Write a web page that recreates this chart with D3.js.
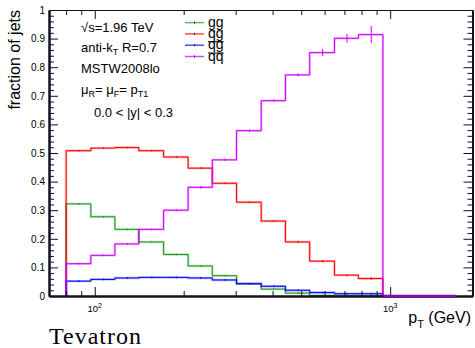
<!DOCTYPE html>
<html>
<head>
<meta charset="utf-8">
<script src="https://cdn.jsdelivr.net/npm/d3@7"></script>
<style>
  body { margin: 0; background: #fff; }
  svg { display: block; }
  text { fill: #000; }
</style>
</head>
<body>
<svg id="chart" width="475" height="348" font-family="Liberation Sans, Arial, Helvetica, sans-serif"></svg>
<script>
// Jet pT bin edges (GeV), log-spaced
const binEdges = [80, 97, 117, 141, 171, 207, 250, 302, 366, 442, 534, 648, 781, 945, 1143, 1382, 1671];

// Fraction of jets per subprocess channel in each pT bin
const fracGG    = [0.322, 0.277, 0.233, 0.189, 0.145, 0.105, 0.071, 0.043, 0.024, 0.010, 0.002, 0.001, 0.001, 0, 0, 0];
const fracQG    = [0.508, 0.517, 0.519, 0.508, 0.486, 0.447, 0.394, 0.328, 0.262, 0.189, 0.122, 0.073, 0.061, 0, 0, 0];
const fracQGbar = [0.052, 0.058, 0.063, 0.065, 0.065, 0.063, 0.056, 0.043, 0.034, 0.020, 0.012, 0.008, 0.008, 0, 0, 0];
const fracQQbar = [0.113, 0.142, 0.182, 0.233, 0.300, 0.380, 0.476, 0.578, 0.683, 0.773, 0.851, 0.901, 0.914, 0, 0, 0];

// Statistical uncertainties
const errGG    = [0.003, 0.003, 0.003, 0.003, 0.003, 0.003, 0.003, 0.003, 0.003, 0.003, 0.002, 0.002, 0.002, 0, 0, 0];
const errQG    = [0.003, 0.003, 0.003, 0.003, 0.003, 0.003, 0.003, 0.003, 0.003, 0.004, 0.004, 0.004, 0.005, 0, 0, 0];
const errQGbar = [0.003, 0.003, 0.003, 0.003, 0.003, 0.003, 0.003, 0.003, 0.003, 0.003, 0.003, 0.003, 0.003, 0, 0, 0];
const errQQbar = [0.003, 0.003, 0.003, 0.003, 0.003, 0.004, 0.004, 0.004, 0.004, 0.005, 0.012, 0.016, 0.030, 0, 0, 0];

const legendLabels = ["gg", "qg", "qg", "qq"];
const legendBar    = [false, false, true, true];
const seriesColors = ["#1e9a1e", "#ff0000", "#0000ff", "#cc00ff"];

const yMajorTicks = [0, 0.1, 0.2, 0.3, 0.4, 0.5, 0.6, 0.7, 0.8, 0.9, 1];
const xMajorTicks = [100, 1000];
const xMajorLabels = [["10", "2"], ["10", "3"]];
const xMinorTicks = [80, 90, 200, 300, 400, 500, 600, 700, 800, 900];

const series = [
  { vals: fracGG,    errs: errGG },
  { vals: fracQG,    errs: errQG },
  { vals: fracQGbar, errs: errQGbar },
  { vals: fracQQbar, errs: errQQbar }
];

const svg = d3.select("#chart");
const L = 49, R = 472.5, T = 10, B = 296;

const x = d3.scaleLog().domain([70, 1900]).range([L, R]);
const y = d3.scaleLinear().domain([0, 1]).range([B, T]);

const yMinor = d3.range(0, 1.0001, 0.02).filter(v => Math.abs(Math.round(v * 10) - v * 10) > 1e-6);

// ---- axes ----
function styleAxis(g, w) {
  g.select(".domain").attr("stroke", "#111122").attr("stroke-width", w);
  g.selectAll(".tick line").attr("stroke", "#111").attr("stroke-width", 1);
}

svg.append("g").attr("transform", `translate(${L},0)`)
  .call(d3.axisLeft(y).tickValues(yMinor).tickSize(-5).tickSizeOuter(0).tickFormat(""))
  .call(g => styleAxis(g, 2));
const leftMaj = svg.append("g").attr("transform", `translate(${L},0)`)
  .call(d3.axisLeft(y).tickValues(yMajorTicks).tickSize(-9).tickSizeOuter(0).tickPadding(4)
    .tickFormat(d => d3.format("")(d)))
  .call(g => styleAxis(g, 2));
leftMaj.attr("font-family", null).attr("font-size", 10);
leftMaj.selectAll("text").attr("fill", "#000");

svg.append("g").attr("transform", `translate(${R},0)`)
  .call(d3.axisRight(y).tickValues(yMinor).tickSize(-5).tickSizeOuter(0).tickFormat(""))
  .call(g => styleAxis(g, 2));
svg.append("g").attr("transform", `translate(${R},0)`)
  .call(d3.axisRight(y).tickValues(yMajorTicks).tickSize(-9).tickSizeOuter(0).tickFormat(""))
  .call(g => styleAxis(g, 2));

svg.append("g").attr("transform", `translate(0,${T})`)
  .call(d3.axisTop(x).tickValues(xMinorTicks).tickSize(-5).tickSizeOuter(0).tickFormat(""))
  .call(g => styleAxis(g, 1));
svg.append("g").attr("transform", `translate(0,${T})`)
  .call(d3.axisTop(x).tickValues(xMajorTicks).tickSize(-9).tickSizeOuter(0).tickFormat(""))
  .call(g => styleAxis(g, 1));

// ---- histograms ----
const line = d3.line().x(d => x(d[0])).y(d => y(d[1]));
function stepPoints(vals) {
  const pts = [[binEdges[0], 0]];
  vals.forEach((v, i) => { pts.push([binEdges[i], v]); pts.push([binEdges[i + 1], v]); });
  pts.push([binEdges[vals.length], 0]);
  return pts;
}

const plot = svg.append("g");
series.forEach((s, k) => {
  const col = seriesColors[k];
  const g = plot.append("g");
  const pts = stepPoints(s.vals);
  g.append("path").attr("d", line(pts)).attr("fill", "none")
    .attr("stroke", col).attr("stroke-opacity", 0.3).attr("stroke-width", 2.4);
  g.append("path").attr("d", line(pts)).attr("fill", "none")
    .attr("stroke", col).attr("stroke-width", 1);
  // error bars at bin centres
  s.vals.forEach((v, i) => {
    if (v <= 0) return;
    const xc = x((binEdges[i] + binEdges[i + 1]) / 2);
    g.append("line")
      .attr("x1", xc).attr("x2", xc)
      .attr("y1", y(v - s.errs[i])).attr("y2", y(v + s.errs[i]))
      .attr("stroke", col).attr("stroke-width", 1);
  });
});

// bottom axis drawn over the zero-level histogram segments
svg.append("g").attr("transform", `translate(0,${B})`)
  .call(d3.axisBottom(x).tickValues(xMinorTicks).tickSize(-5).tickSizeOuter(0).tickFormat(""))
  .call(g => styleAxis(g, 2));
svg.append("g").attr("transform", `translate(0,${B})`)
  .call(d3.axisBottom(x).tickValues(xMajorTicks).tickSize(-9).tickSizeOuter(0).tickFormat(""))
  .call(g => styleAxis(g, 2));
// empty high-pT bins of the qq-bar histogram lie along the axis line
svg.append("path")
  .attr("d", line([[binEdges[13], 0], [binEdges[16], 0]]))
  .attr("fill", "none").attr("stroke", "#8a00cc").attr("stroke-width", 2);

xMajorTicks.forEach((t, i) => {
  const tx = svg.append("text").attr("x", x(t)).attr("y", 311.5)
    .attr("text-anchor", "middle").attr("font-size", 9.5);
  tx.append("tspan").text(xMajorLabels[i][0]);
  tx.append("tspan").attr("font-size", 7).attr("dy", -4).text(xMajorLabels[i][1]);
});

// ---- titles ----
svg.append("text").attr("transform", "translate(20,10) rotate(-90)")
  .attr("text-anchor", "end").attr("font-size", 16).text("fraction of jets");

const xt = svg.append("text").attr("x", 471).attr("y", 323).attr("text-anchor", "end").attr("font-size", 16);
xt.append("tspan").text("p");
xt.append("tspan").attr("font-size", 11).attr("dy", 5).text("T");
xt.append("tspan").attr("dy", -5).text(" (GeV)");

svg.append("text").attr("x", 49).attr("y", 344)
  .attr("font-family", "Liberation Serif, Times New Roman, serif")
  .attr("font-size", 24).attr("letter-spacing", 1).text("Tevatron");

// ---- annotations ----
const ann = svg.append("g").attr("font-size", 13);
ann.append("text").attr("x", 81).attr("y", 32).text("√s=1.96 TeV");
const a2 = ann.append("text").attr("x", 81).attr("y", 52);
a2.append("tspan").text("anti-k");
a2.append("tspan").attr("font-size", 9).attr("dy", 3).text("T");
a2.append("tspan").attr("dy", -3).text(" R=0.7");
ann.append("text").attr("x", 81).attr("y", 73).text("MSTW2008lo");
const a4 = ann.append("text").attr("x", 81).attr("y", 94);
a4.append("tspan").text("μ");
a4.append("tspan").attr("font-size", 9).attr("dy", 3).text("R");
a4.append("tspan").attr("dy", -3).text("= μ");
a4.append("tspan").attr("font-size", 9).attr("dy", 3).text("F");
a4.append("tspan").attr("dy", -3).text("= p");
a4.append("tspan").attr("font-size", 9).attr("dy", 3).text("T1");
ann.append("text").attr("x", 94).attr("y", 117).text("0.0 < |y| < 0.3");

// ---- legend ----
const leg = svg.append("g");
legendLabels.forEach((lab, i) => {
  const by = 26.6 + i * 11.3;
  const ly = by - 4;
  leg.append("line").attr("x1", 185).attr("x2", 204).attr("y1", ly).attr("y2", ly)
    .attr("stroke", seriesColors[i]).attr("stroke-width", 1.5).attr("stroke-opacity", 0.7);
  leg.append("line").attr("x1", 194.5).attr("x2", 194.5).attr("y1", ly - 1).attr("y2", ly + 1)
    .attr("stroke", "#222").attr("stroke-width", 1);
  const t = leg.append("text").attr("x", 208).attr("y", by).attr("font-size", 14).text(lab);
  if (legendBar[i]) {
    const w = t.node().getComputedTextLength();
    leg.append("line").attr("x1", 208).attr("x2", 208 + w).attr("y1", by - 7.5).attr("y2", by - 7.5)
      .attr("stroke", "#000").attr("stroke-width", 1);
  }
});
</script>
</body>
</html>
